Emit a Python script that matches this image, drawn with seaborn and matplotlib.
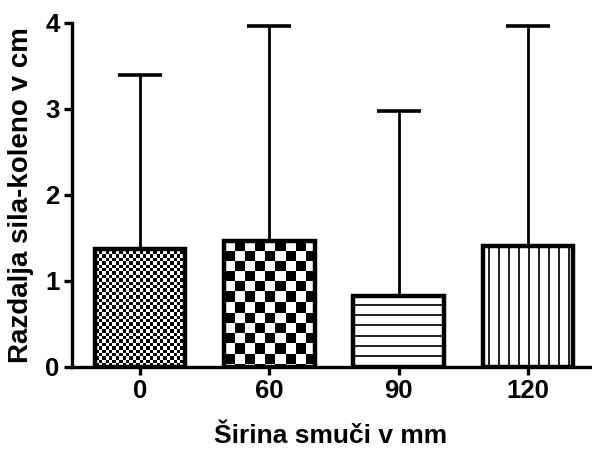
import numpy as np
import pandas as pd
import matplotlib
matplotlib.use("Agg")
import matplotlib.pyplot as plt
import seaborn as sns

categories = ["0", "60", "90", "120"]
means = [1.37, 1.47, 0.83, 1.41]
sd_upper = [2.03, 2.49, 2.15, 2.55]
patterns = ["fine_checker", "checker", "hlines", "vlines"]

sns.set_theme(style="ticks")
plt.rcParams["font.family"] = ["Liberation Sans", "DejaVu Sans"]

df = pd.DataFrame({"width": categories, "value": means})

fig = plt.figure(figsize=(5.92, 4.5), dpi=100)
ax = fig.add_axes([72 / 592, 1 - 367 / 450, (590 - 72) / 592, (367 - 23) / 450])

sns.barplot(data=df, x="width", y="value", order=categories, ax=ax,
            width=0.70, color="white", edgecolor="black", linewidth=3.2,
            errorbar=None, zorder=2)

xpos = np.arange(len(categories))
ax.errorbar(xpos, means, yerr=[np.zeros(len(means)), sd_upper], fmt="none",
            ecolor="black", elinewidth=2.0, capsize=16, capthick=2.6, zorder=1)

ax.set_xlim(-0.526, 3.48)
ax.set_ylim(0, 4)
ax.set_yticks([0, 1, 2, 3, 4])

fig.canvas.draw()
for patch, kind in zip(ax.patches, patterns):
    x0, y0 = patch.get_x(), patch.get_y()
    w, h = patch.get_width(), patch.get_height()
    p0 = ax.transData.transform((x0, y0))
    p1 = ax.transData.transform((x0 + w, y0 + h))
    nw = max(int(round(p1[0] - p0[0])), 1)
    nh = max(int(round(p1[1] - p0[1])), 1)
    jj, ii = np.meshgrid(np.arange(nw), np.arange(nh))
    if kind == "fine_checker":
        c = 3.4
        img = (((jj // c).astype(int) + (ii // c).astype(int)) % 2).astype(float)
    elif kind == "checker":
        c = 10.2
        img = (((jj // c).astype(int) + ((nh - 1 - ii) // c).astype(int) + 1) % 2).astype(float)
    elif kind == "hlines":
        img = np.where((ii % 10) < 2, 0.15, 1.0)
    else:
        img = np.where(((jj + 5) % 10) < 2, 0.15, 1.0)
    im = ax.imshow(img, extent=[x0, x0 + w, y0, y0 + h], origin="lower",
                   cmap="gray", vmin=0, vmax=1, interpolation="nearest",
                   aspect="auto", zorder=1.5)
    im.set_clip_path(patch)
    patch.set_facecolor("none")

ax.set_xlim(-0.526, 3.48)
ax.set_ylim(0, 4)
ax.set_aspect("auto")

for s in ["top", "right"]:
    ax.spines[s].set_visible(False)
for s in ["left", "bottom"]:
    ax.spines[s].set_linewidth(2.4)
    ax.spines[s].set_color("black")
ax.tick_params(axis="both", length=6, width=2.4, color="black",
               labelsize=18.5, labelcolor="black", pad=3)
for lab in ax.get_xticklabels() + ax.get_yticklabels():
    lab.set_fontweight("bold")

ax.set_xlabel("Širina smuči v mm", fontsize=19, fontweight="bold", labelpad=15, color="black")
ax.set_ylabel("Razdalja sila-koleno v cm", fontsize=20, fontweight="bold", labelpad=8, color="black")

fig.savefig("out.png", dpi=100)
